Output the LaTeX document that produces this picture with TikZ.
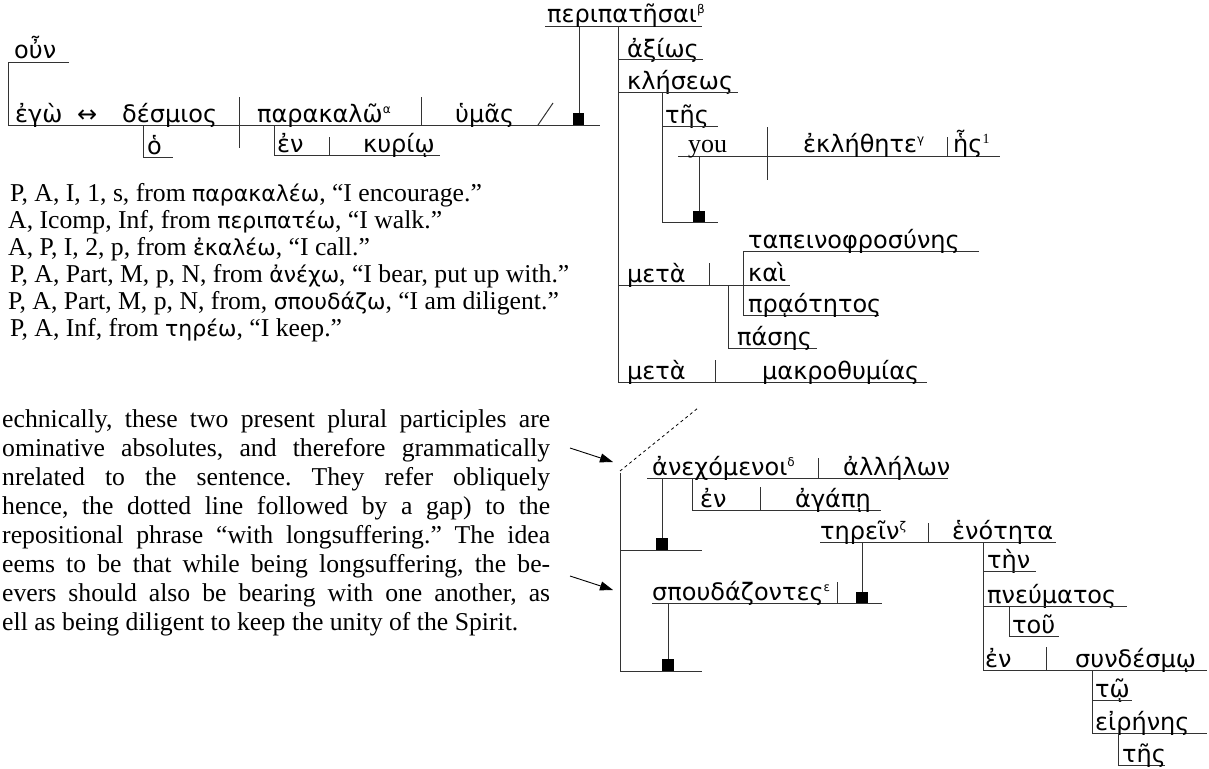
\documentclass[tikz,border=0pt]{standalone}
\usepackage{fontspec}
\setmainfont{Liberation Serif}
\newfontfamily\gkfont{DejaVu Sans}
\usetikzlibrary{arrows.meta}
\frenchspacing
\newcommand{\GK}{\gkfont\fontsize{24}{28}\selectfont}
\newcommand{\GS}{\gkfont\fontsize{22}{25}\selectfont}
\newcommand{\EN}{\rmfamily\fontsize{25.7}{30}\selectfont}
\newcommand{\sups}[1]{\raisebox{9pt}{\fontsize{12}{12}\selectfont #1}}
\newcommand{\jl}[1]{\makebox[548pt][s]{#1}}
\begin{document}
\begin{tikzpicture}[x=1pt,y=-1pt,
  ln/.style={draw=black!80,line width=1pt},
  gw/.style={anchor=base west,inner sep=0pt,font=\GK},
  ew/.style={anchor=base west,inner sep=0pt,font=\EN},
  dotl/.style={draw=black,line width=0.8pt,dash pattern=on 3pt off 3pt},
  arr/.style={draw=black,line width=0.9pt,-{Triangle[length=13pt,width=9pt]}}]
\useasboundingbox (0,0) rectangle (1209,768);
% ---- main clause
\node[gw] (oun) at (14,59) {οὖν};
\draw[ln] (69,63) -- (8,63) -- (8,125) -- (600,125);
\node[gw] (ego) at (15,122) {ἐγὼ};
\node[anchor=base west,inner sep=0pt,font=\gkfont\fontsize{24}{24}\selectfont] (bi) at (77,122) {↔};
\node[gw] (desm) at (122,122) {δέσμιος};
\draw[ln] (143,125) -- (143,157) -- (173,157);
\node[gw] (ho) at (147,154) {ὁ};
\draw[ln] (239,97) -- (239,148);
\node[gw] (parak) at (257,122) {παρακαλῶ\sups{α}};
\draw[ln] (421,97) -- (421,125);
\node[gw] (humas) at (455,122) {ὑμᾶς};
\draw[ln] (538,125) -- (553,103);
\fill (573,113) rectangle (584,125);
\draw[ln] (579,113) -- (579,27);
\draw[ln] (274,125) -- (274,155) -- (440,155);
\node[gw] (en1) at (277,152) {ἐν};
\draw[ln] (329,137) -- (329,155);
\node[gw] (kurio) at (363,152) {κυρίῳ};
% ---- peripatesai
\draw[ln] (545,27) -- (702,27);
\node[gw] (peri) at (547,23) {περιπατῆσαι\sups{β}};
\draw[ln] (618,27) -- (618,382);
\node[gw] (axios) at (627,57) {ἀξίως};
\draw[ln] (618,60) -- (703,60);
\node[gw] (klese) at (627,89) {κλήσεως};
\draw[ln] (618,92) -- (738,92);
\draw[ln] (662,92) -- (662,222) -- (718,222);
\node[gw] (tes1) at (665,123) {τῆς};
\draw[ln] (662,126) -- (718,126);
\fill (693,211) rectangle (705,222);
\draw[ln] (678,156) -- (1000,156);
\node[anchor=base west,inner sep=0pt,font=\rmfamily\fontsize{26}{26}\selectfont] (you) at (688,152) {you};
\draw[ln] (767,127) -- (767,180);
\node[gw] (ekl) at (803,152) {ἐκλήθητε\sups{γ}};
\draw[ln] (947,137) -- (947,156);
\node[gw] (hes) at (953,152) {ἧς\raisebox{9pt}{\rmfamily\fontsize{14}{14}\selectfont 1}};
\draw[ln] (699,156) -- (699,211);
% ---- meta phrases
\draw[ln] (618,285) -- (790,285);
\node[gw] (meta1) at (627,282) {μετὰ};
\draw[ln] (709,263) -- (709,285);
\draw[ln] (979,251) -- (743,251) -- (743,315) -- (879,315);
\node[gw] (tapein) at (748,248) {ταπεινοφροσύνης};
\node[gw] (kai) at (748,281) {καὶ};
\node[gw] (praot) at (748,312) {πρᾳότητος};
\draw[ln] (728,285) -- (728,348) -- (817,348);
\node[gw] (pases) at (737,345) {πάσης};
\draw[ln] (618,382) -- (927,382);
\node[gw] (meta2) at (627,379) {μετὰ};
\draw[ln] (715,360) -- (715,382);
\node[gw] (makro) at (762,379) {μακροθυμίας};
% ---- participles
\draw[dotl] (620,471) -- (698,408);
\draw[ln] (620,473) -- (620,671) -- (702,671);
\draw[ln] (620,550) -- (702,550);
\fill (656,538) rectangle (668,550);
\draw[ln] (662,478) -- (662,538);
\draw[ln] (647,478) -- (948,478);
\node[gw] (anech) at (652,475) {ἀνεχόμενοι\sups{δ}};
\draw[ln] (818,458) -- (818,478);
\node[gw] (allel) at (843,475) {ἀλλήλων};
\draw[ln] (692,478) -- (692,510) -- (881,510);
\node[gw] (en2) at (700,507) {ἐν};
\draw[ln] (760,487) -- (760,510);
\node[gw] (agape) at (795,507) {ἀγάπῃ};
\draw[ln] (652,603) -- (882,603);
\node[gw] (spoud) at (652,600) {σπουδάζοντες\sups{ε}};
\draw[ln] (837,582) -- (837,603);
\fill (856,592) rectangle (868,603);
\draw[ln] (862,542) -- (862,592);
\draw[ln] (668,603) -- (668,659);
\fill (662,659) rectangle (674,671);
\draw[ln] (820,542) -- (1056,542);
\node[gw] (terein) at (820,539) {τηρεῖν\sups{ζ}};
\draw[ln] (928,523) -- (928,542);
\node[gw] (henot) at (952,539) {ἑνότητα};
\draw[ln] (983,542) -- (983,670) -- (1207,670);
\node[gw] (ten) at (987,568) {τὴν};
\draw[ln] (983,571) -- (1036,571);
\node[gw] (pneum) at (987,603) {πνεύματος};
\draw[ln] (983,606) -- (1127,606);
\draw[ln] (1009,606) -- (1009,636) -- (1059,636);
\node[gw] (tou) at (1012,633) {τοῦ};
\node[gw] (en3) at (985,667) {ἐν};
\draw[ln] (1046,647) -- (1046,670);
\node[gw] (sundes) at (1075,667) {συνδέσμῳ};
\draw[ln] (1092,670) -- (1092,733) -- (1207,733);
\node[gw] (tow) at (1095,697) {τῷ};
\draw[ln] (1092,700) -- (1132,700);
\node[gw] (eiren) at (1095,730) {εἰρήνης};
\draw[ln] (1118,733) -- (1118,765) -- (1165,765);
\node[gw] (tes2) at (1122,762) {τῆς};
% ---- footnotes
\node[ew] (fn1) at (10,201) {P, A, I, 1, s, from {\GS παρακαλέω}, “I encourage.”};
\node[ew] (fn2) at (8,228) {A, Icomp, Inf, from {\GS περιπατέω}, “I walk.”};
\node[ew] (fn3) at (8,255) {A, P, I, 2, p, from {\GS ἐκαλέω}, “I call.”};
\node[ew] (fn4) at (10,282) {P, A, Part, M, p, N, from {\GS ἀνέχω}, “I bear, put up with.”};
\node[ew] (fn5) at (8,309) {P, A, Part, M, p, N, from, {\GS σπουδάζω}, “I am diligent.”};
\node[ew] (fn6) at (10,336) {P, A, Inf, from {\GS τηρέω}, “I keep.”};
% ---- paragraph
\node[ew] (p1) at (2,427) {\jl{echnically, these two present plural participles are}};
\node[ew] (p2) at (2,456) {\jl{ominative absolutes, and therefore grammatically}};
\node[ew] (p3) at (2,485) {\jl{nrelated to the sentence. They refer obliquely}};
\node[ew] (p4) at (2,514) {\jl{hence, the dotted line followed by a gap) to the}};
\node[ew] (p5) at (2,543) {\jl{repositional phrase “with longsuffering.” The idea}};
\node[ew] (p6) at (2,572) {\jl{eems to be that while being longsuffering, the be-}};
\node[ew] (p7) at (2,601) {\jl{evers should also be bearing with one another, as}};
\node[ew] (p8) at (2,630) {ell as being diligent to keep the unity of the Spirit.};
% ---- arrows
\coordinate (a1s) at (570,448);
\coordinate (a1e) at (613,462);
\coordinate (a2s) at (570,576);
\coordinate (a2e) at (613,590);
\draw[arr] (a1s) -- (a1e);
\draw[arr] (a2s) -- (a2e);
\end{tikzpicture}
\end{document}
